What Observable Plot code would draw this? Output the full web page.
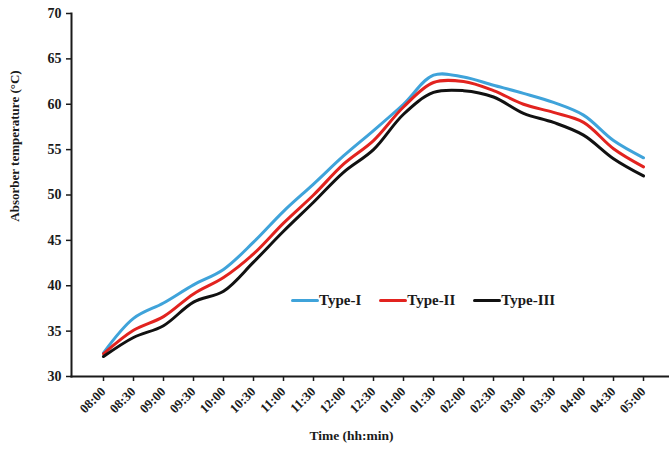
<!DOCTYPE html>
<html>
<head>
<meta charset="utf-8">
<script src="https://cdn.jsdelivr.net/npm/d3@7"></script>
<script src="https://cdn.jsdelivr.net/npm/@observablehq/plot@0.6"></script>
<style>
  body { margin: 0; background: #fff; }
  #chart {
    position: relative; width: 669px; height: 452px;
    font-family: "Liberation Serif", "Times New Roman", serif; font-weight: bold; color: #1a1a1a;
  }
  #chart svg { position: absolute; left: 0; top: 0; }
  .legend { position: absolute; left: 291px; top: 292px; display: flex; gap: 18px; font-size: 15px; }
  .legend .item { display: flex; align-items: center; }
  .legend .swatch { width: 28px; height: 3px; border-radius: 1.5px; }
  .ytitle {
    position: absolute; left: 15px; top: 146px; font-size: 13px; white-space: nowrap;
    transform: translate(-50%, -50%) rotate(-90deg);
  }
</style>
</head>
<body>
<div id="chart"></div>
<script>
// Time of day, every 30 minutes
const times = ["08:00","08:30","09:00","09:30","10:00","10:30","11:00","11:30","12:00","12:30",
               "01:00","01:30","02:00","02:30","03:00","03:30","04:00","04:30","05:00"];

// Absorber temperature (°C) for each collector type
const typeI   = [32.6, 36.4, 38.1, 40.1, 41.8, 44.8, 48.2, 51.2, 54.3, 57.1, 60.0, 63.2, 63.0, 62.1, 61.2, 60.2, 58.8, 56.0, 54.1];
const typeII  = [32.5, 35.1, 36.6, 39.1, 40.9, 43.5, 46.9, 50.0, 53.4, 56.0, 59.7, 62.4, 62.5, 61.5, 60.0, 59.1, 58.0, 55.1, 53.1];
const typeIII = [32.2, 34.3, 35.6, 38.2, 39.4, 42.6, 46.0, 49.2, 52.5, 55.0, 58.9, 61.3, 61.5, 60.8, 59.0, 58.0, 56.6, 54.0, 52.1];

const seriesNames  = ["Type-I", "Type-II", "Type-III"];
const seriesColors = ["#3fa3da", "#e2231f", "#111111"];
const yTicks = [30, 35, 40, 45, 50, 55, 60, 65, 70];

const rows = [typeI, typeII, typeIII].flatMap((vals, i) =>
  vals.map((v, j) => ({time: times[j], temp: v, type: seriesNames[i]})));

const plot = Plot.plot({
  width: 669,
  height: 452,
  marginLeft: 71,
  marginRight: 0,
  marginTop: 13,
  marginBottom: 76,
  style: {fontFamily: '"Liberation Serif", "Times New Roman", serif', fontWeight: "bold", color: "#1a1a1a", background: "transparent"},
  x: {type: "point", domain: times, range: [87, 658]},
  y: {domain: [30, 70]},
  color: {domain: seriesNames, range: seriesColors},
  marks: [
    Plot.axisY({ticks: yTicks, tickSize: 5, tickPadding: 5, fontSize: 14, label: null, strokeWidth: 1.5}),
    Plot.axisX({tickSize: 5, tickRotate: -45, tickPadding: 8, fontSize: 13, label: null, strokeWidth: 1.5}),
    Plot.frame({anchor: "left", strokeWidth: 2}),
    Plot.frame({anchor: "bottom", strokeWidth: 2}),
    Plot.line(rows, {x: "time", y: "temp", z: "type", stroke: "type", strokeWidth: 3, curve: "catmull-rom"}),
    Plot.text(["Time (hh:min)"], {frameAnchor: "bottom", dx: -19, dy: 63, fontSize: 13.5})
  ]
});

const chart = document.getElementById("chart");
chart.appendChild(plot);

// Rotated y-axis title
const ytitle = document.createElement("div");
ytitle.className = "ytitle";
ytitle.textContent = "Absorber temperature (°C)";
chart.appendChild(ytitle);

// Legend: line swatch followed by series name
const legend = document.createElement("div");
legend.className = "legend";
seriesNames.forEach((name, i) => {
  const item = document.createElement("div");
  item.className = "item";
  const sw = document.createElement("span");
  sw.className = "swatch";
  sw.style.background = seriesColors[i];
  const label = document.createElement("span");
  label.textContent = name;
  item.append(sw, label);
  legend.appendChild(item);
});
chart.appendChild(legend);
</script>
</body>
</html>
